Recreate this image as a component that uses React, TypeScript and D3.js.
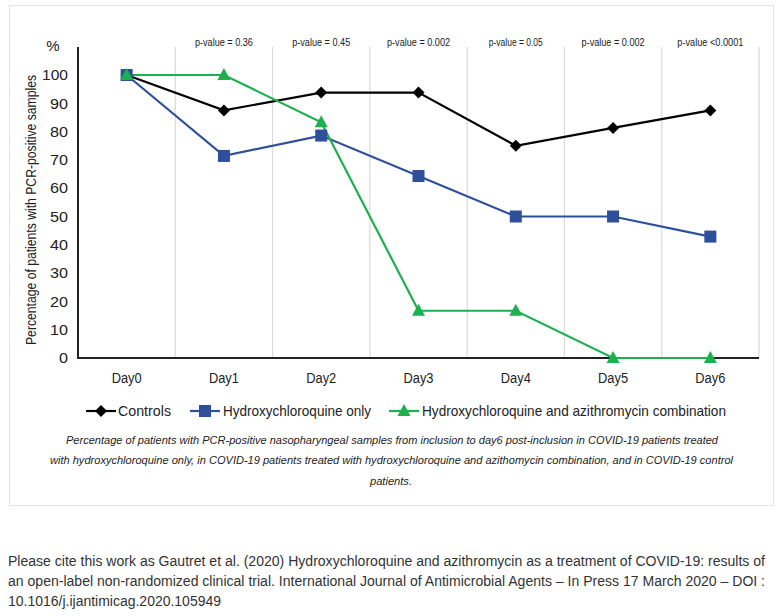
import React from "react";
import * as d3 from "d3";

const days = ["Day0", "Day1", "Day2", "Day3", "Day4", "Day5", "Day6"];
const controls = [100, 87.5, 93.8, 93.8, 75, 81.3, 87.5];
const hcqOnly = [100, 71.4, 78.6, 64.3, 50, 50, 42.9];
const hcqAzi = [100, 100, 83.3, 16.7, 16.7, 0, 0];
const pValues = ["", "p-value = 0.36", "p-value = 0.45", "p-value = 0.002", "p-value = 0.05", "p-value = 0.002", "p-value <0.0001"];
const yTicks = [0, 10, 20, 30, 40, 50, 60, 70, 80, 90, 100];
const seriesNames = ["Controls", "Hydroxychloroquine only", "Hydroxychloroquine and azithromycin combination"];
const captionLines = [
  "Percentage of patients with PCR-positive nasopharyngeal samples from inclusion to day6 post-inclusion in COVID-19 patients treated",
  "with hydroxychloroquine only, in COVID-19 patients treated with hydroxychloroquine and azithomycin combination, and in COVID-19 control",
  "patients.",
];
const citeLines = [
  "Please cite this work as Gautret et al. (2020) Hydroxychloroquine and azithromycin as a treatment of COVID-19: results of",
  "an open-label non-randomized clinical trial. International Journal of Antimicrobial Agents – In Press 17 March 2020 – DOI :",
  "10.1016/j.ijantimicag.2020.105949",
];

const FONT = "'Liberation Sans', Arial, sans-serif";

export default function App() {
  const W = 782, H = 616;
  const left = 78, right = 759, top = 47, bottom = 358;
  const x = d3.scaleBand<string>().domain(days).range([left, right]);
  const y = d3.scaleLinear().domain([0, 100]).range([bottom, 75]);
  const cx = (d: string) => (x(d) as number) + x.bandwidth() / 2;

  const line = d3.line<number>().x((_, i) => cx(days[i])).y((v) => y(v));

  const colors = ["#000000", "#2e4f9a", "#1db04f"];
  const data = [controls, hcqOnly, hcqAzi];

  const marker = (k: number, px: number, py: number, key: string) => {
    if (k === 0) {
      const s = 6;
      return <path key={key} d={`M${px},${py - s}L${px + s},${py}L${px},${py + s}L${px - s},${py}Z`} fill={colors[0]} />;
    }
    if (k === 1) {
      return <rect key={key} x={px - 6} y={py - 6} width={12} height={12} fill={colors[1]} />;
    }
    return <path key={key} d={`M${px},${py - 7}L${px + 6.5},${py + 5}L${px - 6.5},${py + 5}Z`} fill={colors[2]} />;
  };

  const legendItems = [
    { lx: 86, tx: 118, tw: 53 },
    { lx: 190, tx: 223, tw: 148 },
    { lx: 389, tx: 422, tw: 304 },
  ];
  const pWidths = [0, 58, 58, 63, 54, 63, 66];
  const capX = [66, 50, 370];
  const capW = [652, 683, 42];
  const citeW = [757, 757, 213];

  return (
    <svg width={W} height={H} style={{ position: "absolute", left: 0, top: 0, background: "#fff" }} fontFamily={FONT}>
      <rect x={9.5} y={5.5} width={764} height={500} fill="#fff" stroke="#e3e3e3" />
      {days.map((d) => {
        const gx = (x(d) as number) + x.bandwidth();
        return <line key={d} x1={gx} x2={gx} y1={top} y2={bottom} stroke="#d9d9d9" strokeWidth={1.2} />;
      })}
      <line x1={left} x2={left} y1={top} y2={bottom + 1} stroke="#222" strokeWidth={2} />
      <line x1={left} x2={right} y1={bottom} y2={bottom} stroke="#222" strokeWidth={2} />
      {yTicks.map((t) => (
        <text key={t} x={68} y={y(t)} dy="0.35em" textAnchor="end" fontSize={15} fill="#222"
          textLength={t === 100 ? 26 : t === 0 ? 9 : 18} lengthAdjust="spacingAndGlyphs">{t}</text>
      ))}
      <text x={53} y={46} dy="0.35em" textAnchor="middle" fontSize={15} fill="#222">%</text>
      <text transform={`translate(31,210) rotate(-90)`} textAnchor="middle" fontSize={14} fill="#222" dy="0.35em"
        textLength={270} lengthAdjust="spacingAndGlyphs">
        Percentage of patients with PCR-positive samples
      </text>
      {days.map((d) => (
        <text key={d} x={cx(d)} y={378} dy="0.35em" textAnchor="middle" fontSize={14} fill="#222"
          textLength={30} lengthAdjust="spacingAndGlyphs">{d}</text>
      ))}
      {days.map((d, i) => pValues[i] ? (
        <text key={"p" + d} x={cx(d)} y={42} dy="0.35em" textAnchor="middle" fontSize={11} fill="#222"
          textLength={pWidths[i]} lengthAdjust="spacingAndGlyphs">{pValues[i]}</text>
      ) : null)}
      {data.map((s, k) => (
        <path key={"l" + k} d={line(s) as string} fill="none" stroke={colors[k]} strokeWidth={2.2} />
      ))}
      {data.map((s, k) => s.map((v, i) => marker(k, cx(days[i]), y(v), `m${k}-${i}`)))}
      {legendItems.map((it, k) => (
        <g key={"lg" + k}>
          <line x1={it.lx} x2={it.lx + 30} y1={411} y2={411} stroke={colors[k]} strokeWidth={2.2} />
          {marker(k, it.lx + 15, 411, "lm" + k)}
          <text x={it.tx} y={411} dy="0.35em" fontSize={15} fill="#222"
            textLength={it.tw} lengthAdjust="spacingAndGlyphs">{seriesNames[k]}</text>
        </g>
      ))}
      {captionLines.map((l, i) => (
        <text key={"c" + i} x={capX[i]} y={440 + i * 20.5} dy="0.35em" fontSize={11} fontStyle="italic" fill="#222"
          textLength={capW[i]} lengthAdjust="spacingAndGlyphs">{l}</text>
      ))}
      {citeLines.map((l, i) => (
        <text key={"ct" + i} x={8} y={561 + i * 20} dy="0.35em" fontSize={14} fill="#333"
          textLength={citeW[i]} lengthAdjust="spacingAndGlyphs">{l}</text>
      ))}
    </svg>
  );
}
